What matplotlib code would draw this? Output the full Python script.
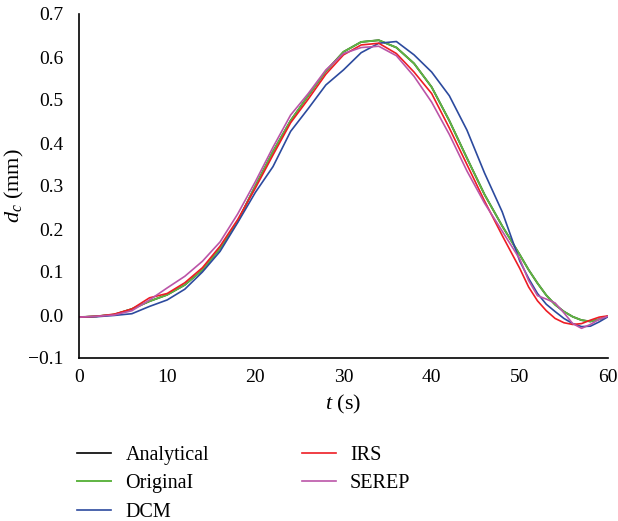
import matplotlib
matplotlib.use("Agg")
import matplotlib.pyplot as plt

plt.rcParams['font.family'] = ['Liberation Serif', 'DejaVu Serif']
plt.rcParams['mathtext.fontset'] = 'custom'
plt.rcParams['mathtext.it'] = 'Liberation Serif:italic'
plt.rcParams['mathtext.rm'] = 'Liberation Serif'

# time axis (s)
t = [0, 2, 4, 6, 8, 10, 12, 14, 16, 18, 20, 22, 24, 26, 28, 30, 32, 34, 36, 38,
     40, 42, 44, 46, 48, 50, 51, 52, 53, 54, 55, 56, 57, 58, 59, 60]

original = [-0.005, -0.003, 0.001, 0.014, 0.032, 0.047, 0.07, 0.105, 0.155, 0.218,
            0.3, 0.38, 0.452, 0.51, 0.567, 0.612, 0.635, 0.639, 0.622, 0.585,
            0.53, 0.452, 0.365, 0.28, 0.207, 0.14, 0.105, 0.074, 0.046, 0.024,
            0.008, -0.004, -0.012, -0.015, -0.01, -0.003]
analytical = original
dcm = [-0.005, -0.004, -0.001, 0.003, 0.02, 0.035, 0.06, 0.1, 0.148, 0.215,
       0.285, 0.345, 0.427, 0.48, 0.535, 0.57, 0.61, 0.632, 0.636, 0.605,
       0.565, 0.51, 0.43, 0.33, 0.24, 0.125, 0.085, 0.05, 0.025, 0.008,
       -0.008, -0.02, -0.027, -0.026, -0.016, -0.004]
irs = [-0.005, -0.003, 0.002, 0.014, 0.04, 0.05, 0.075, 0.11, 0.16, 0.222,
       0.295, 0.372, 0.447, 0.502, 0.56, 0.605, 0.628, 0.632, 0.608, 0.565,
       0.515, 0.435, 0.35, 0.265, 0.185, 0.108, 0.065, 0.033, 0.01, -0.008,
       -0.018, -0.022, -0.02, -0.012, -0.005, -0.002]
serep = [-0.005, -0.003, 0.0, 0.01, 0.035, 0.063, 0.09, 0.125, 0.17, 0.235,
         0.31, 0.39, 0.465, 0.515, 0.57, 0.608, 0.622, 0.625, 0.603, 0.555,
         0.495, 0.42, 0.335, 0.26, 0.195, 0.13, 0.08, 0.045, 0.037, 0.028,
         0.005, -0.02, -0.031, -0.022, -0.01, -0.003]

fig = plt.figure(figsize=(6.18, 5.21), dpi=100)
ax = fig.add_axes([79 / 618, 1 - 358 / 521, 529 / 618, 344 / 521])

lw = 1.2
ax.plot(t, analytical, color='black', lw=lw, label='Analytical')
ax.plot(t, original, color='#5fb442', lw=lw + 0.2, label='OriginaI')
ax.plot(t, dcm, color='#2c4a9e', lw=lw, label='DCM')
ax.plot(t, irs, color='#ee1c24', lw=lw, label='IRS')
ax.plot(t, serep, color='#bb55a8', lw=lw, label='SEREP')

ax.set_xlim(0, 60)
ax.set_ylim(-0.1, 0.7)
ax.set_xticks([0, 10, 20, 30, 40, 50, 60])
ax.set_yticks([-0.1, 0.0, 0.1, 0.2, 0.3, 0.4, 0.5, 0.6, 0.7])
ax.set_yticklabels(['\u22120.1', '0.0', '0.1', '0.2', '0.3', '0.4', '0.5', '0.6', '0.7'])
ax.tick_params(length=0, labelsize=14)
ax.tick_params(axis='y', pad=11)
ax.tick_params(axis='x', pad=8)
for s in ['top', 'right']:
    ax.spines[s].set_visible(False)
for s in ['left', 'bottom']:
    ax.spines[s].set_linewidth(1.2)

ax.set_xlabel('$t$ (s)', fontsize=16, labelpad=5)
ax.set_ylabel('$d_c$ (mm)', fontsize=16)
ax.yaxis.set_label_coords(-0.1, 0.5)

fig.legend(loc='upper left', bbox_to_anchor=(77 / 618, 1 - 446 / 521), ncol=2,
           frameon=False, fontsize=14.5, handlelength=1.7, handletextpad=0.7,
           columnspacing=4.6, labelspacing=0.46, borderpad=0, borderaxespad=0)

fig.savefig('out.png', dpi=100)
